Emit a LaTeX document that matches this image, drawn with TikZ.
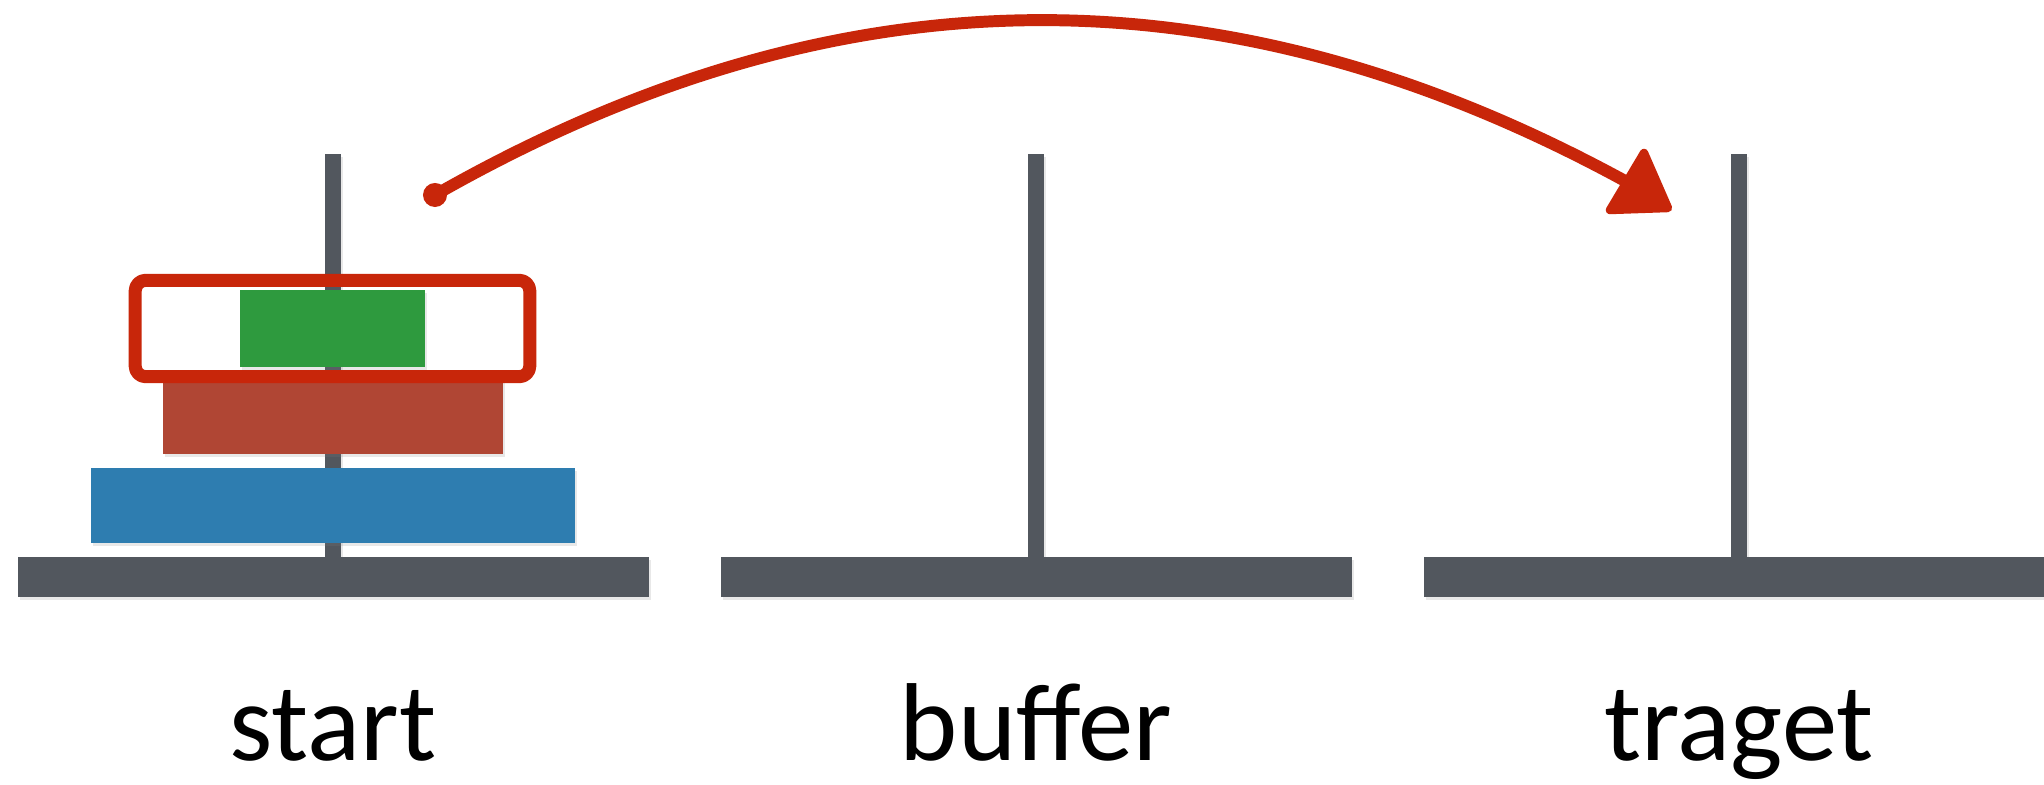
\documentclass[tikz,border=0pt]{standalone}
\usepackage{fontspec}
\setmainfont{Carlito}
\usetikzlibrary{fit,shadows}

\definecolor{rodgrey}{RGB}{82,87,94}
\definecolor{diskgreen}{RGB}{46,154,62}
\definecolor{diskred}{RGB}{176,70,52}
\definecolor{diskblue}{RGB}{46,125,176}
\definecolor{inkred}{RGB}{200,38,10}

\begin{document}
\begin{tikzpicture}[x=0.01cm, y=-0.01cm,
    rod/.style={fill=rodgrey, drop shadow={shadow xshift=0.6pt, shadow yshift=-0.9pt, opacity=0.18}},
    disk/.style={draw=none, inner sep=0pt, minimum height=0.77cm,
      drop shadow={shadow xshift=0.6pt, shadow yshift=-0.9pt, opacity=0.18}},
    pen/.style={draw=inkred, line width=3.7pt, line cap=round, line join=round},
    peglabel/.style={font=\fontsize{31.5}{36}\selectfont, anchor=base, inner sep=0pt}]
    \useasboundingbox[fill=white] (0,0) rectangle (2044,785);

    % pegs and bases
    \foreach \px/\name in {333/start, 1036/buffer, 1739/traget} {
        \fill[rod] (\px-8,154) rectangle (\px+8,557);
        \fill[rod] (\px-315.5,557) rectangle (\px+315.5,597);
        \node[peglabel] (\name) at (\px,761) {\name};
    }

    % disks on the start peg
    \node[disk, fill=diskblue, minimum width=4.84cm, minimum height=0.75cm] (blue) at (333,505.5) {};
    \node[disk, fill=diskred, minimum width=3.40cm, minimum height=0.76cm] (red) at (333,416) {};
    \node[disk, fill=diskgreen, minimum width=1.85cm] (green) at (332.5,328.5) {};

    % hand marking of the top disk
    \node[pen, fit=(green), inner xsep=1.04cm, inner ysep=0.09cm, rounded corners=3pt] (grab) {};

    % the move
    \coordinate (lift) at (435,195);
    \coordinate (drop) at (1627,182);
    \draw[pen, line width=3.4pt] (lift) .. controls (849,-41) and (1237,-31) .. (drop);
    \fill[inkred] (lift) circle (0.12cm);
    \filldraw[inkred, line width=2.4pt, line join=round] (1644,153) -- (1610,210) -- (1668,208) -- cycle;
\end{tikzpicture}
\end{document}
